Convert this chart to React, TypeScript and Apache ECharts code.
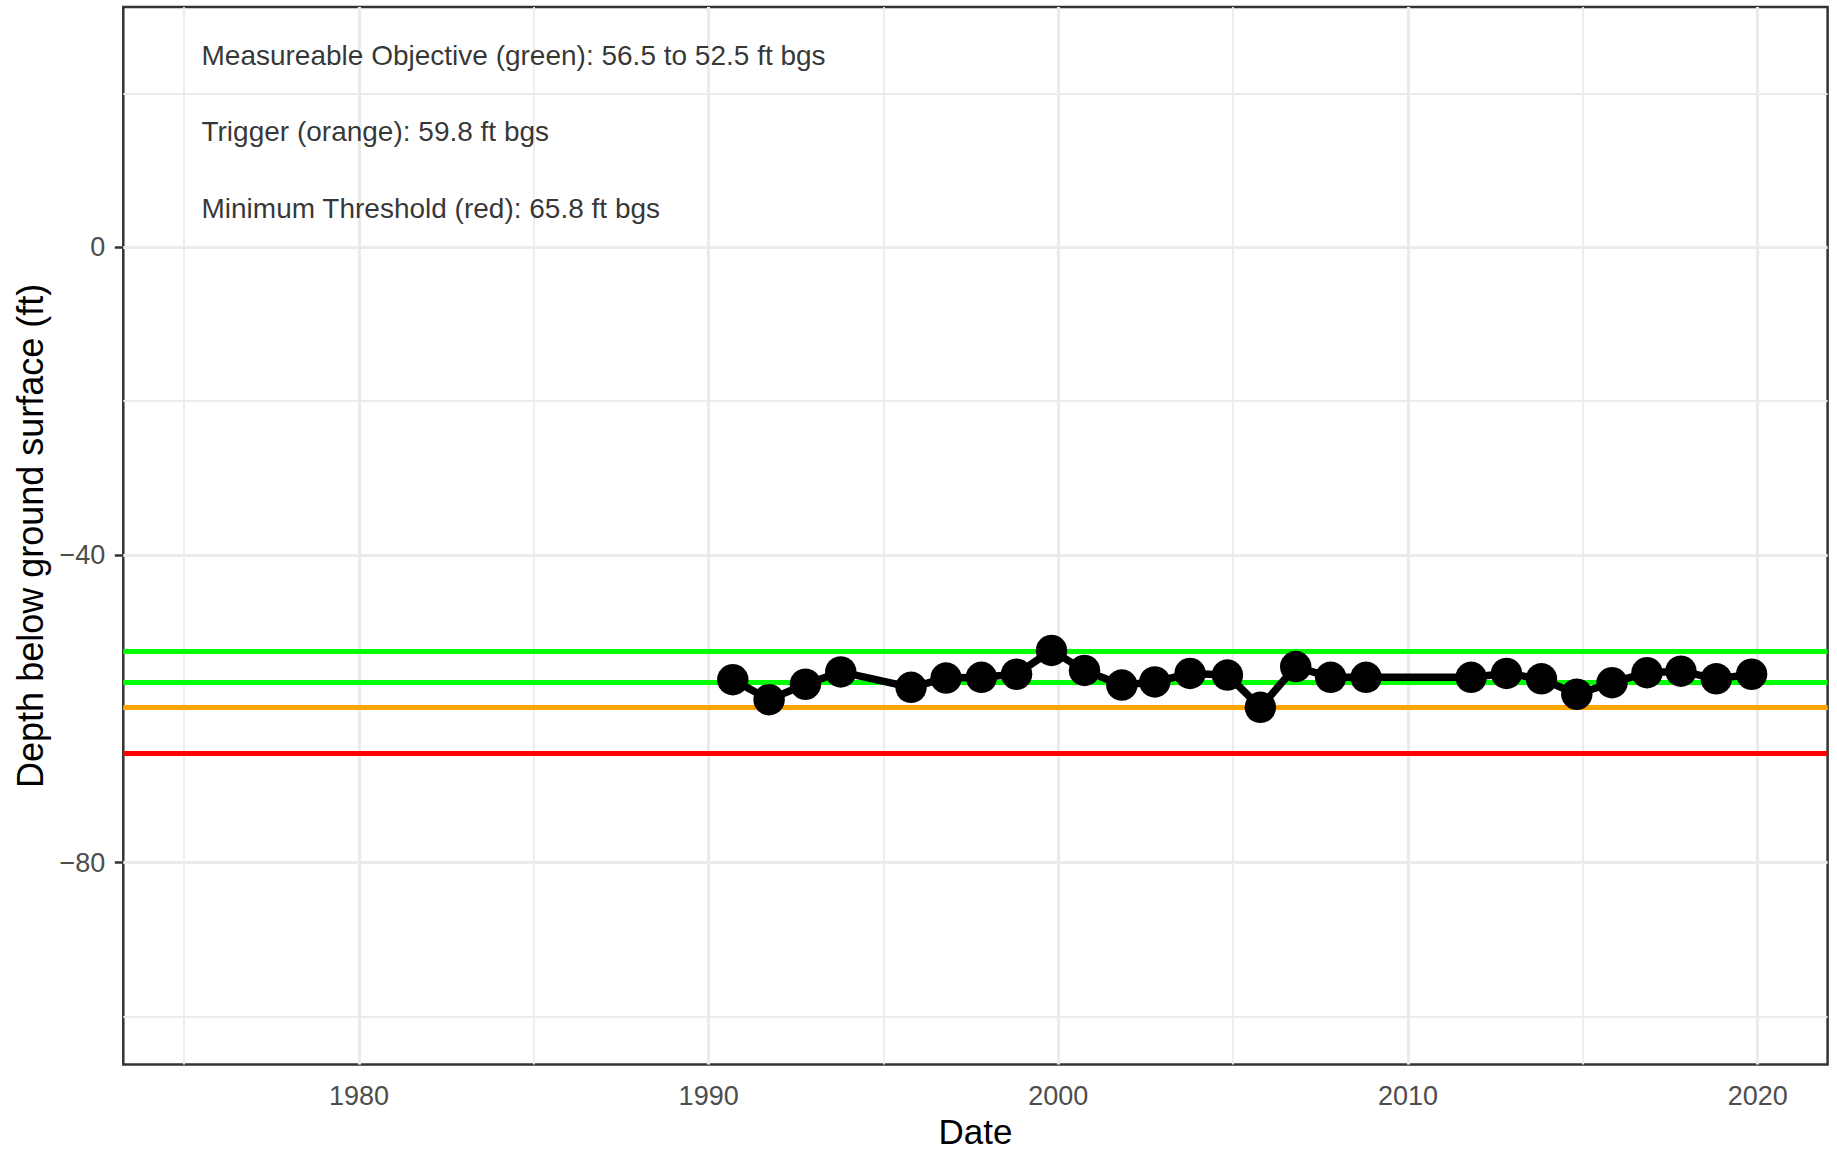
import React, { useEffect, useRef } from "react";
import * as echarts from "echarts";

// ---- data ----
const DATES = [
  "1990-09-10", "1991-09-24", "1992-10-08", "1993-10-12", "1995-10-16",
  "1996-10-16", "1997-10-20", "1998-10-22", "1999-10-22", "2000-10-01",
  "2001-10-26", "2002-10-05", "2003-10-08", "2004-11-02", "2005-10-12",
  "2006-10-16", "2007-10-16", "2008-10-20", "2011-10-22", "2012-10-26",
  "2013-10-26", "2014-10-30", "2015-11-02", "2016-11-02", "2017-10-22",
  "2018-10-26", "2019-10-30",
];
const DEPTHS = [
  -56.2, -58.8, -56.8, -55.2, -57.2, -56.0, -55.9, -55.5, -52.4, -55.0,
  -56.9, -56.5, -55.4, -55.6, -59.8, -54.5, -55.9, -55.9, -55.9, -55.4,
  -56.1, -58.1, -56.6, -55.3, -55.1, -56.1, -55.5,
];
const THRESHOLD_VALUES = [-52.5, -56.5, -59.8, -65.8];
const THRESHOLD_COLORS = ["#00FF00", "#00FF00", "#FFA500", "#FF0000"];
const ANNOTATION_TEXTS = [
  "Measureable Objective (green): 56.5 to 52.5 ft bgs",
  "Trigger (orange): 59.8 ft bgs",
  "Minimum Threshold (red): 65.8 ft bgs",
];
const ANNOTATION_Y = [25, 15, 5];
const ANNOTATION_X = "1975-07-01";
const X_MAJOR = [1980, 1990, 2000, 2010, 2020];
const X_MINOR = [1975, 1985, 1995, 2005, 2015];
const Y_MAJOR = [-80, -40, 0];
const Y_MINOR = [-100, -60, -20, 20];
const X_RANGE = [1973.26, 2022.0];
const Y_RANGE = [-106.25, 31.25];

const FONT = "'Liberation Sans', Arial, Helvetica, sans-serif";

function toDecimalYear(s: string): number {
  const [y, m, d] = s.split("-").map(Number);
  const start = Date.UTC(y, 0, 1);
  const end = Date.UTC(y + 1, 0, 1);
  const t = Date.UTC(y, m - 1, d);
  return y + (t - start) / (end - start);
}

export default function App() {
  const ref = useRef<HTMLDivElement>(null);

  useEffect(() => {
    if (!ref.current) return;
    const chart = echarts.init(ref.current, null, { renderer: "svg" });

    const points = DATES.map((d, i) => [toDecimalYear(d), DEPTHS[i]]);
    const annX = toDecimalYear(ANNOTATION_X);

    const majorStyle = { color: "#EBEBEB", width: 3.2, type: "solid" };
    const minorStyle = { color: "#EBEBEB", width: 1.8, type: "solid" };

    const option: any = {
      animation: false,
      backgroundColor: "#FFFFFF",
      textStyle: { fontFamily: FONT },
      grid: {
        left: 123.3,
        top: 7,
        right: 9.4,
        bottom: 86.7,
        show: true,
        borderColor: "#333333",
        borderWidth: 2.5,
        backgroundColor: "#FFFFFF",
        containLabel: false,
      },
      xAxis: {
        type: "value",
        min: X_RANGE[0],
        max: X_RANGE[1],
        name: "Date",
        nameLocation: "middle",
        nameGap: 49,
        nameTextStyle: { fontSize: 35, color: "#000000", fontFamily: FONT },
        axisLine: { show: false },
        splitLine: { show: false },
        axisTick: {
          show: true,
          customValues: X_MAJOR,
          length: 8.5,
          lineStyle: { color: "#333333", width: 2.5 },
        },
        axisLabel: {
          customValues: X_MAJOR,
          fontSize: 27,
          color: "#4D4D4D",
          margin: 17.5,
          fontFamily: FONT,
          formatter: (v: number) => String(Math.round(v)),
        },
      },
      yAxis: {
        type: "value",
        min: Y_RANGE[0],
        max: Y_RANGE[1],
        name: "Depth below ground surface (ft)",
        nameLocation: "middle",
        nameGap: 75,
        nameRotate: 90,
        nameTextStyle: { fontSize: 36, color: "#000000", fontFamily: FONT },
        axisLine: { show: false },
        splitLine: { show: false },
        axisTick: {
          show: true,
          customValues: Y_MAJOR,
          length: 8.5,
          lineStyle: { color: "#333333", width: 2.5 },
        },
        axisLabel: {
          customValues: Y_MAJOR,
          fontSize: 27,
          color: "#4D4D4D",
          margin: 18,
          fontFamily: FONT,
          formatter: (v: number) => String(Math.round(v)).replace("-", "\u2212"),
        },
      },
      series: [
        {
          name: "grid",
          type: "line",
          z: 1,
          silent: true,
          data: [points[0]],
          showSymbol: false,
          lineStyle: { opacity: 0 },
          markLine: {
            z: 1,
            silent: true,
            symbol: ["none", "none"],
            label: { show: false },
            emphasis: { disabled: true },
            data: [
              ...X_MINOR.map((v) => ({ xAxis: v, lineStyle: minorStyle })),
              ...Y_MINOR.map((v) => ({ yAxis: v, lineStyle: minorStyle })),
              ...X_MAJOR.map((v) => ({ xAxis: v, lineStyle: majorStyle })),
              ...Y_MAJOR.map((v) => ({ yAxis: v, lineStyle: majorStyle })),
            ],
          },
        },
        {
          name: "thresholds",
          type: "line",
          z: 2,
          silent: true,
          data: [points[0]],
          showSymbol: false,
          lineStyle: { opacity: 0 },
          markLine: {
            z: 2,
            silent: true,
            symbol: ["none", "none"],
            label: { show: false },
            emphasis: { disabled: true },
            data: THRESHOLD_VALUES.map((v, i) => ({
              yAxis: v,
              lineStyle: { color: THRESHOLD_COLORS[i], width: 5, type: "solid" },
            })),
          },
        },
        {
          name: "depth",
          type: "line",
          z: 3,
          data: points,
          symbol: "circle",
          symbolSize: 31.5,
          showSymbol: true,
          lineStyle: { color: "#000000", width: 7.5 },
          itemStyle: { color: "#000000" },
        },
        {
          name: "annotations",
          type: "scatter",
          z: 4,
          silent: true,
          symbolSize: 0,
          data: ANNOTATION_TEXTS.map((t, i) => ({
            value: [annX, ANNOTATION_Y[i]],
            label: { formatter: t },
          })),
          label: {
            show: true,
            position: "right",
            distance: 0,
            fontSize: 28,
            color: "#000000",
            fontFamily: FONT,
          },
        },
      ],
    };

    chart.setOption(option);
    return () => chart.dispose();
  }, []);

  return (
    <div
      ref={ref}
      style={{ position: "fixed", left: 0, top: 0, width: 1837, height: 1154 }}
    />
  );
}
